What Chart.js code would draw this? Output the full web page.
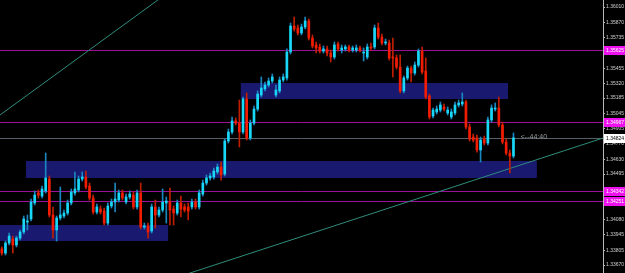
<!DOCTYPE html>
<html>
<head>
<meta charset="utf-8">
<script src="https://cdn.jsdelivr.net/npm/chart.js@4/dist/chart.umd.min.js"></script>
<style>
  html, body { margin: 0; padding: 0; background: #000; }
  #wrap { width: 625px; height: 273px; }
</style>
</head>
<body>
<div id="wrap"><canvas id="chart" width="625" height="273"></canvas></div>
<script>
// Candles
const opens = [1.33816,1.33779,1.33870,1.33906,1.33852,1.33915,1.33970,1.34060,1.34088,1.34233,
  1.34324,1.34296,1.34342,1.34450,1.34124,1.33988,1.34097,1.34115,1.34142,1.34233,
  1.34324,1.34351,1.34450,1.34469,1.34387,1.34278,1.34151,1.34178,1.34160,1.34051,
  1.34206,1.34242,1.34260,1.34324,1.34242,1.34287,1.34305,1.34197,1.34324,1.34015,
  1.34024,1.33979,1.34197,1.34124,1.34169,1.34233,1.34242,1.34178,1.34142,1.34233,
  1.34197,1.34197,1.34197,1.34242,1.34197,1.34314,1.34414,1.34460,1.34469,1.34514,
  1.34559,1.34496,1.34795,1.34877,1.34977,1.34958,1.34877,1.35176,1.34822,1.34958,
  1.35085,1.35212,1.35267,1.35303,1.35339,1.35212,1.35249,1.35348,1.35367,1.35602,
  1.35838,1.35820,1.35775,1.35829,1.35884,1.35729,1.35666,1.35648,1.35611,1.35630,
  1.35593,1.35557,1.35675,1.35620,1.35630,1.35648,1.35620,1.35620,1.35639,1.35593,
  1.35557,1.35648,1.35648,1.35820,1.35738,1.35684,1.35684,1.35557,1.35548,1.35466,
  1.35249,1.35367,1.35457,1.35412,1.35484,1.35611,1.35430,1.35203,1.35022,1.35058,
  1.35076,1.35104,1.35049,1.35013,1.35049,1.35122,1.35131,1.35149,1.34922,1.34831,
  1.34822,1.34714,1.34813,1.34777,1.34986,1.35085,1.35094,1.34940,1.34786,1.34686,
  1.34659];
const highs = [1.33834,1.33888,1.33961,1.33933,1.33933,1.33988,1.34115,1.34124,1.34269,1.34342,
  1.34351,1.34387,1.34686,1.34478,1.34197,1.34115,1.34378,1.34169,1.34260,1.34360,
  1.34514,1.34478,1.34514,1.34523,1.34414,1.34305,1.34224,1.34206,1.34187,1.34233,
  1.34269,1.34414,1.34351,1.34351,1.34314,1.34342,1.34333,1.34351,1.34414,1.34051,
  1.34051,1.34224,1.34260,1.34197,1.34360,1.34287,1.34369,1.34206,1.34260,1.34296,
  1.34224,1.34233,1.34269,1.34269,1.34351,1.34441,1.34487,1.34505,1.34550,1.34587,
  1.34605,1.34813,1.34904,1.35013,1.35004,1.35167,1.35194,1.35231,1.34986,1.35113,
  1.35249,1.35376,1.35330,1.35367,1.35403,1.35303,1.35376,1.35403,1.35630,1.35865,
  1.35920,1.35847,1.35856,1.35920,1.35902,1.35757,1.35693,1.35675,1.35657,1.35657,
  1.35620,1.35693,1.35693,1.35666,1.35666,1.35666,1.35657,1.35666,1.35657,1.35639,
  1.35675,1.35684,1.35847,1.35865,1.35766,1.35720,1.35711,1.35729,1.35575,1.35575,
  1.35385,1.35475,1.35475,1.35512,1.35630,1.35648,1.35548,1.35221,1.35094,1.35113,
  1.35149,1.35131,1.35104,1.35085,1.35149,1.35167,1.35231,1.35167,1.34949,1.34859,
  1.34850,1.34831,1.34840,1.35013,1.35122,1.35140,1.35194,1.34967,1.34813,1.34714,
  1.34868];
const lows = [1.33761,1.33761,1.33852,1.33779,1.33834,1.33897,1.33952,1.33988,1.34070,1.34215,
  1.34278,1.34278,1.34324,1.34106,1.33915,1.33888,1.34079,1.34097,1.34124,1.34215,
  1.34305,1.34333,1.34432,1.34360,1.34260,1.34133,1.34133,1.34133,1.34033,1.34033,
  1.34187,1.34151,1.34242,1.34260,1.34224,1.34269,1.34178,1.34178,1.33997,1.33997,
  1.33915,1.33961,1.34006,1.34106,1.34151,1.34051,1.34033,1.34033,1.34124,1.34106,
  1.34151,1.34079,1.34178,1.34178,1.34178,1.34296,1.34396,1.34441,1.34450,1.34496,
  1.34441,1.34478,1.34777,1.34859,1.34940,1.34741,1.34859,1.34804,1.34804,1.34940,
  1.35067,1.35194,1.35249,1.35285,1.35321,1.35194,1.35231,1.35330,1.35348,1.35584,
  1.35793,1.35757,1.35757,1.35811,1.35711,1.35639,1.35593,1.35593,1.35593,1.35566,
  1.35512,1.35539,1.35611,1.35593,1.35611,1.35602,1.35602,1.35602,1.35602,1.35521,
  1.35539,1.35620,1.35630,1.35720,1.35666,1.35666,1.35530,1.35376,1.35448,1.35231,
  1.35231,1.35348,1.35330,1.35394,1.35466,1.35403,1.35176,1.34995,1.35004,1.35040,
  1.35058,1.35067,1.35031,1.34995,1.35031,1.35104,1.35113,1.34904,1.34795,1.34786,
  1.34695,1.34605,1.34759,1.34759,1.34967,1.35067,1.34922,1.34768,1.34668,1.34505,
  1.34641];
const closes = [1.33779,1.33870,1.33933,1.33852,1.33915,1.33970,1.34088,1.34070,1.34242,1.34305,
  1.34305,1.34360,1.34460,1.34124,1.33988,1.34097,1.34124,1.34142,1.34233,1.34333,
  1.34360,1.34450,1.34469,1.34378,1.34278,1.34151,1.34197,1.34151,1.34051,1.34206,
  1.34242,1.34269,1.34324,1.34278,1.34287,1.34314,1.34197,1.34324,1.34015,1.34024,
  1.33970,1.34197,1.34124,1.34169,1.34242,1.34251,1.34169,1.34142,1.34233,1.34178,
  1.34169,1.34160,1.34242,1.34197,1.34324,1.34414,1.34460,1.34478,1.34523,1.34559,
  1.34487,1.34795,1.34877,1.34977,1.34958,1.34877,1.35176,1.34822,1.34958,1.35085,
  1.35221,1.35276,1.35303,1.35339,1.35376,1.35258,1.35348,1.35376,1.35602,1.35838,
  1.35811,1.35775,1.35829,1.35884,1.35729,1.35657,1.35639,1.35611,1.35630,1.35593,
  1.35557,1.35666,1.35630,1.35639,1.35648,1.35620,1.35639,1.35639,1.35620,1.35602,
  1.35648,1.35639,1.35820,1.35738,1.35684,1.35693,1.35548,1.35548,1.35466,1.35249,
  1.35367,1.35457,1.35412,1.35484,1.35611,1.35421,1.35194,1.35013,1.35076,1.35085,
  1.35122,1.35085,1.35076,1.35058,1.35122,1.35140,1.35149,1.34922,1.34813,1.34804,
  1.34714,1.34804,1.34777,1.34986,1.35094,1.35094,1.34940,1.34786,1.34686,1.34659,
  1.34824];

// bar slots on screen (includes the empty space on the right)
const slotCount = 165;
const slots = Array.from({ length: slotCount }, (_, i) => String(i));

// price axis
const priceMin = 1.33598;
const priceMax = 1.36074;
const tickLabels = ["1.36010","1.35870","1.35735","1.35595","1.35455","1.35320","1.35185","1.35045","1.34905",
  "1.34770","1.34630","1.34495","1.34355","1.34220","1.34080","1.33945","1.33805","1.33670"];

// horizontal levels
const levelPrices = [1.35625, 1.34967, 1.34342, 1.34251];
const bidPrice = 1.34824;
const countdown = "<--44:40";

// zones: bar index range and price range
const zoneFrom = [-2, 6.6, 65.4];
const zoneTo = [45.5, 146.4, 138.5];
const zoneTop = [1.34033, 1.34614, 1.35321];
const zoneBottom = [1.33888, 1.34460, 1.35176];

// trendlines: two anchors each [bar index, price]
const trendA = [[-0.5, 1.35031], [42.7, 1.36074]];
const trendB = [[51.5, 1.33598], [164.5, 1.34822]];

const UP = "#19d8f7", DOWN = "#f41c00";
const UP_WICK = "#1a86c0", DOWN_WICK = "#c01e00";
const AXIS_FONT = "'Liberation Sans', sans-serif";

const isUp = i => closes[i] >= opens[i];

const overlay = {
  id: "overlay",
  beforeDatasetsDraw(chart) {
    const { ctx, chartArea: a, scales: { x, y } } = chart;
    ctx.save();
    ctx.beginPath();
    ctx.rect(a.left, a.top, a.right - a.left, a.bottom - a.top);
    ctx.clip();

    // zones
    ctx.fillStyle = "#191970";
    zoneFrom.forEach((f, k) => {
      const x0 = x.getPixelForValue(f), x1 = x.getPixelForValue(zoneTo[k]);
      const y0 = y.getPixelForValue(zoneTop[k]), y1 = y.getPixelForValue(zoneBottom[k]);
      ctx.fillRect(x0, y0, x1 - x0, y1 - y0);
    });

    // levels
    ctx.lineWidth = 1;
    ctx.strokeStyle = "#9a129a";
    levelPrices.forEach(p => {
      const py = Math.round(y.getPixelForValue(p)) + 0.5;
      ctx.beginPath(); ctx.moveTo(a.left, py); ctx.lineTo(a.right, py); ctx.stroke();
    });
    ctx.strokeStyle = "#56606a";
    const by = Math.round(y.getPixelForValue(bidPrice)) + 0.5;
    ctx.beginPath(); ctx.moveTo(a.left, by); ctx.lineTo(a.right, by); ctx.stroke();

    // trendlines
    ctx.strokeStyle = "#2f8c7c";
    [trendA, trendB].forEach(t => {
      const x1 = x.getPixelForValue(t[0][0]), y1 = y.getPixelForValue(t[0][1]);
      const x2 = x.getPixelForValue(t[1][0]), y2 = y.getPixelForValue(t[1][1]);
      const k = (y2 - y1) / (x2 - x1);
      ctx.beginPath();
      ctx.moveTo(a.left, y1 + k * (a.left - x1));
      ctx.lineTo(a.right, y1 + k * (a.right - x1));
      ctx.stroke();
    });
    ctx.restore();
  },
  afterDraw(chart) {
    const { ctx, chartArea: a, scales: { x, y } } = chart;
    ctx.save();
    ctx.textBaseline = "middle";

    // countdown text next to the last bar
    ctx.fillStyle = "#9a9a9a";
    ctx.font = "7px 'Liberation Sans'";
    ctx.fillText(countdown, x.getPixelForValue(142), y.getPixelForValue(bidPrice) - 1);

    // price boxes on the axis
    ctx.font = "5px " + AXIS_FONT;
    levelPrices.forEach(p => {
      const py = Math.round(y.getPixelForValue(p));
      ctx.fillStyle = "#ee10ee";
      ctx.fillRect(a.right + 1, py - 4, 22, 9);
      ctx.fillStyle = "#ffffff";
      ctx.fillText(p.toFixed(5), a.right + 3, py + 0.5);
    });
    const py = Math.round(y.getPixelForValue(bidPrice));
    ctx.fillStyle = "#ffffff";
    ctx.fillRect(a.right + 1, py - 4, 22, 9);
    ctx.fillStyle = "#000000";
    ctx.fillText(bidPrice.toFixed(5), a.right + 3, py + 0.5);
    ctx.restore();
  }
};

new Chart(document.getElementById("chart"), {
  type: "bar",
  data: {
    labels: slots,
    datasets: [
      {
        label: "body",
        data: opens.map((o, i) => [o, closes[i]]),
        backgroundColor: c => isUp(c.dataIndex) ? UP : DOWN,
        barThickness: 2,
        minBarLength: 1,
        grouped: false,
        borderWidth: 0,
        order: 0
      },
      {
        label: "wick",
        data: lows.map((l, i) => [l, highs[i]]),
        backgroundColor: c => isUp(c.dataIndex) ? UP_WICK : DOWN_WICK,
        barThickness: 1,
        grouped: false,
        borderWidth: 0,
        order: 1
      }
    ]
  },
  options: {
    responsive: false,
    animation: false,
    devicePixelRatio: 1,
    layout: { padding: 0 },
    plugins: { legend: { display: false }, tooltip: { enabled: false } },
    scales: {
      x: { display: false, offset: true, grid: { display: false } },
      y: {
        position: "right",
        min: priceMin,
        max: priceMax,
        afterBuildTicks: s => { s.ticks = tickLabels.map(t => ({ value: parseFloat(t) })); },
        afterFit: s => { s.width = 22; s.paddingTop = 0; s.paddingBottom = 0; },
        ticks: {
          autoSkip: false,
          color: "#d0d0d0",
          padding: 1,
          font: { family: AXIS_FONT, size: 5 },
          callback: (v, i) => tickLabels[i]
        },
        grid: { drawOnChartArea: false, drawTicks: true, tickLength: 2, color: "#b8b8b8" },
        border: { color: "#b8b8b8" }
      }
    }
  },
  plugins: [overlay]
});
</script>
</body>
</html>
